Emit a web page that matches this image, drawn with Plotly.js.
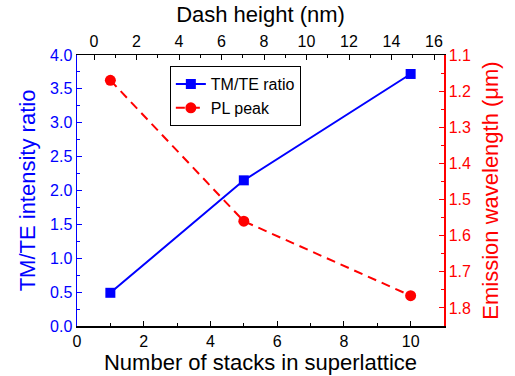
<!DOCTYPE html>
<html>
<head>
<meta charset="utf-8">
<script src="https://cdn.plot.ly/plotly-3.0.1.min.js"></script>
<style>html,body{margin:0;padding:0;background:#fff;}#chart{width:515px;height:376px;}</style>
</head>
<body>
<div id="chart"></div>
<script>
const stacks = [1, 5, 10];
const tmteRatio = [0.49, 2.15, 3.72];
const plPeak = [1.17, 1.56, 1.766];

const F = "Liberation Sans, Arial, sans-serif";
const TF = 16, TT = 22;
const traces = [
  {x: stacks, y: tmteRatio, name: 'TM/TE ratio', type: 'scatter', mode: 'lines+markers',
   line: {color: '#0000ff', width: 2}, marker: {symbol: 'square', size: 10, color: '#0000ff'}},
  {x: stacks, y: plPeak, name: 'PL peak', type: 'scatter', mode: 'lines+markers', yaxis: 'y2',
   line: {color: '#ff0000', width: 2, dash: '9px,6px'}, marker: {symbol: 'circle', size: 11, color: '#ff0000'}},
  {x: [], y: [], xaxis: 'x2', showlegend: false, hoverinfo: 'skip'}
];

const layout = {
  width: 515, height: 376,
  margin: {l: 77, r: 71, t: 55, b: 50},
  paper_bgcolor: '#fff', plot_bgcolor: '#fff',
  font: {family: F, size: TF, color: '#000'},
  showlegend: true,
  legend: {x: 0.253, y: 0.959, xanchor: 'left', yanchor: 'top', bordercolor: '#000', borderwidth: 1,
           bgcolor: '#fff', font: {family: F, size: 16, color: '#000'}, tracegroupgap: 0},
  xaxis: {range: [0, 11], tickvals: [0,2,4,6,8,10], ticks: 'inside', ticklen: 5, tickcolor: '#000',
          minor: {dtick: 1, ticks: 'inside', ticklen: 3, tickcolor: '#000'},
          showline: true, linecolor: '#000', linewidth: 1.5, showgrid: false, zeroline: false,
          tickfont: {family: F, size: TF, color: '#000'},
          title: {text: 'Number of stacks in superlattice', font: {family: F, size: TT, color: '#000'}, standoff: 2}},
  xaxis2: {overlaying: 'x', side: 'top', anchor: 'y', range: [-0.8, 16.47], dtick: 2, tick0: 0,
           ticks: 'inside', ticklen: 5, tickcolor: '#000',
           minor: {dtick: 1, ticks: 'inside', ticklen: 3, tickcolor: '#000'},
           showline: true, linecolor: '#000', linewidth: 1.5, showgrid: false, zeroline: false,
           tickfont: {family: F, size: TF, color: '#000'},
           title: {text: 'Dash height (nm)', font: {family: F, size: TT, color: '#000'}, standoff: 4}},
  yaxis: {range: [0, 4], dtick: 0.5, tickformat: '.1f', ticks: 'inside', ticklen: 5, tickcolor: '#0000ff',
          minor: {dtick: 0.25, ticks: 'inside', ticklen: 3, tickcolor: '#0000ff'},
          showline: true, linecolor: '#0000ff', linewidth: 1.5, showgrid: false, zeroline: false,
          tickfont: {family: F, size: TF, color: '#0000ff'},
          title: {text: 'TM/TE intensity ratio', font: {family: F, size: TT, color: '#0000ff'}, standoff: 8}},
  yaxis2: {overlaying: 'y', side: 'right', anchor: 'x', range: [1.85, 1.1], dtick: 0.1, tick0: 1.1, tickformat: '.1f',
           ticks: 'inside', ticklen: 5, tickcolor: '#ff0000',
           minor: {dtick: 0.05, ticks: 'inside', ticklen: 3, tickcolor: '#ff0000'},
           showline: true, linecolor: '#ff0000', linewidth: 1.5, showgrid: false, zeroline: false,
           tickfont: {family: F, size: TF, color: '#ff0000'},
           title: {text: 'Emission wavelength (μm)', font: {family: F, size: TT, color: '#ff0000'}, standoff: 12}}
};

Plotly.newPlot('chart', traces, layout, {displayModeBar: false, staticPlot: true});
</script>
</body>
</html>
